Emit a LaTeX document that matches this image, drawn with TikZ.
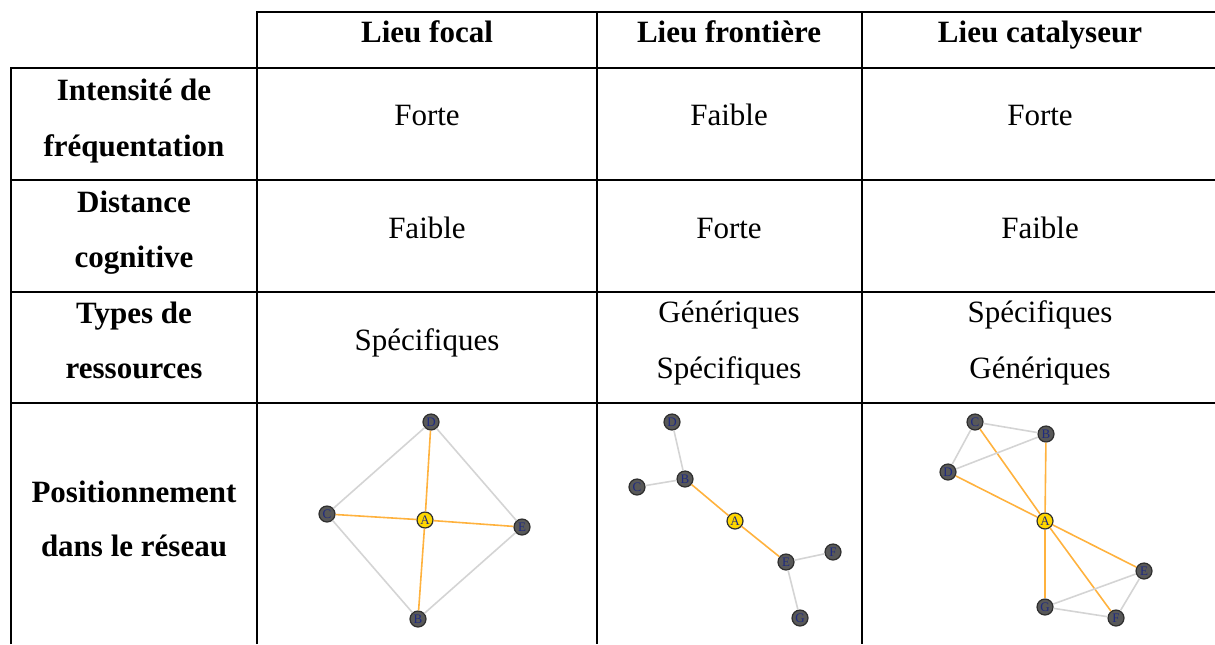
\documentclass[tikz,border=0pt]{standalone}
\usepackage{fontspec}
\setmainfont{Liberation Serif}
\definecolor{nodegrey}{HTML}{585858}
\definecolor{nodeedge}{HTML}{2E2E2E}
\definecolor{labelblue}{HTML}{1F2A80}
\definecolor{centregold}{HTML}{FFD700}
\definecolor{linkorange}{HTML}{FFB23E}
\definecolor{linkgrey}{HTML}{D4D4D4}
\begin{document}
\begin{tikzpicture}[x=0.5pt,y=-0.5pt,
        hdr/.style={anchor=base,font=\fontsize{15.5}{18}\selectfont\bfseries},
        val/.style={anchor=base,font=\fontsize{15.5}{18}\selectfont},
        nd/.style={draw=nodeedge,fill=nodegrey,circle,line width=0.6pt,minimum size=8pt,inner sep=0pt,text=labelblue,font=\fontsize{6.5}{6.5}\selectfont},
        ctr/.style={nd,fill=centregold},
        hl/.style={linkorange,line width=0.8pt},
        ln/.style={linkgrey,line width=0.8pt}]
        \useasboundingbox (0,0) rectangle (1215,644);

        % table grid
        \draw[line width=1.2pt] (257,644) -- (257,12) -- (1215,12);
        \draw[line width=1.2pt] (11,644) -- (11,68) -- (1215,68);
        \draw[line width=1.2pt] (11,180) -- (1215,180);
        \draw[line width=1.2pt] (11,292) -- (1215,292);
        \draw[line width=1.2pt] (11,403) -- (1215,403);
        \draw[line width=1.2pt] (597,12) -- (597,644);
        \draw[line width=1.2pt] (862,12) -- (862,644);

        % headers
        \node[hdr] (hfocal) at (427,42) {Lieu focal};
        \node[hdr] (hfront) at (729,42) {Lieu frontière};
        \node[hdr] (hcata) at (1040,42) {Lieu catalyseur};

        \node[hdr] (int1) at (134,100) {Intensité de};
        \node[hdr] (int2) at (134,156) {fréquentation};
        \node[hdr] (dist1) at (134,212) {Distance};
        \node[hdr] (dist2) at (134,267) {cognitive};
        \node[hdr] (type1) at (134,323) {Types de};
        \node[hdr] (type2) at (134,378) {ressources};
        \node[hdr] (pos1) at (134,502) {Positionnement};
        \node[hdr] (pos2) at (134,556) {dans le réseau};

        % values
        \node[val] (v11) at (427,125) {Forte};
        \node[val] (v12) at (729,125) {Faible};
        \node[val] (v13) at (1040,125) {Forte};

        \node[val] (v21) at (427,238) {Faible};
        \node[val] (v22) at (729,238) {Forte};
        \node[val] (v23) at (1040,238) {Faible};

        \node[val] (v31) at (427,350) {Spécifiques};
        \node[val] (v32a) at (729,322) {Génériques};
        \node[val] (v32b) at (729,378) {Spécifiques};
        \node[val] (v33a) at (1040,322) {Spécifiques};
        \node[val] (v33b) at (1040,378) {Génériques};

        % focal network
        \node[ctr] (fA) at (425,520) {A};
        \node[nd] (fB) at (418,619) {B};
        \node[nd] (fC) at (327,514) {C};
        \node[nd] (fD) at (431,422) {D};
        \node[nd] (fE) at (522,527) {E};

        \foreach \n in {fB,fC,fD,fE} \draw[hl] (fA) -- (\n);
        \draw[ln] (fD) -- (fC);
        \draw[ln] (fD) -- (fE);
        \draw[ln] (fC) -- (fB);
        \draw[ln] (fB) -- (fE);

        % boundary network
        \node[ctr] (bA) at (735,521) {A};
        \node[nd] (bB) at (685,479) {B};
        \node[nd] (bC) at (637,487) {C};
        \node[nd] (bD) at (672,422) {D};
        \node[nd] (bE) at (786,562) {E};
        \node[nd] (bF) at (833,552) {F};
        \node[nd] (bG) at (800,618) {G};

        \draw[hl] (bA) -- (bB);
        \draw[hl] (bA) -- (bE);
        \draw[ln] (bB) -- (bD);
        \draw[ln] (bB) -- (bC);
        \draw[ln] (bE) -- (bF);
        \draw[ln] (bE) -- (bG);

        % catalyst network
        \node[ctr] (kA) at (1045,521) {A};
        \node[nd] (kB) at (1046,434) {B};
        \node[nd] (kC) at (975,422) {C};
        \node[nd] (kD) at (948,472) {D};
        \node[nd] (kE) at (1144,571) {E};
        \node[nd] (kF) at (1116,618) {F};
        \node[nd] (kG) at (1045,607) {G};

        \foreach \n in {kB,kC,kD,kE,kF,kG} \draw[hl] (kA) -- (\n);
        \draw[ln] (kC) -- (kB);
        \draw[ln] (kC) -- (kD);
        \draw[ln] (kD) -- (kB);
        \draw[ln] (kE) -- (kG);
        \draw[ln] (kE) -- (kF);
        \draw[ln] (kG) -- (kF);
    \end{tikzpicture}
\end{document}
